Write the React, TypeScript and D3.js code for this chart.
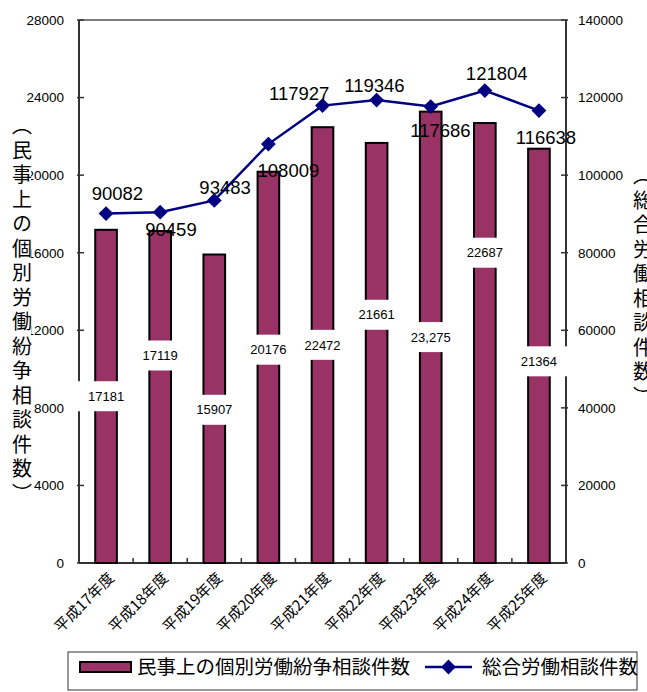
import React from "react";
import * as d3 from "d3";

const categories = ["平成17年度", "平成18年度", "平成19年度", "平成20年度", "平成21年度", "平成22年度", "平成23年度", "平成24年度", "平成25年度"];
const civilCases = [17181, 17119, 15907, 20176, 22472, 21661, 23275, 22687, 21364];
const civilLabels = ["17181", "17119", "15907", "20176", "22472", "21661", "23,275", "22687", "21364"];
const totalCases = [90082, 90459, 93483, 108009, 117927, 119346, 117686, 121804, 116638];
const leftTicks = [0, 4000, 8000, 12000, 16000, 20000, 24000, 28000];
const rightTicks = [0, 20000, 40000, 60000, 80000, 100000, 120000, 140000];
// label placement (axis units / band fractions)
const civilLabelAt = [8600, 10700, 7900, 11000, 11250, 12800, 11650, 16000, 10400];
const totalLabelAt = [95400, 85900, 96900, 101300, 121200, 123200, 111600, 126300, 109800];
const totalLabelShift = [0.21, 0.2, 0.2, 0.37, -0.43, -0.04, 0.18, 0.22, 0.13];
const leftTitle = "（民事上の個別労働紛争相談件数）";
const rightTitle = "（総合労働相談件数）";
const legendBarName = "民事上の個別労働紛争相談件数";
const legendLineName = "総合労働相談件数";

const W = 647, H = 692;
const L = 79, R = 566, T = 20, B = 563;
const BAR = "#993366";
const NAVY = "#000080";
const NUM = "'Liberation Sans', Arial, sans-serif";
const JP = "'Noto Sans CJK JP', sans-serif";

function VerticalTitle({ text, x, top }: { text: string; x: number; top: number }) {
  const n = Array.from(text).length;
  const pitch = 24.5;
  return (
    <g>
      <rect x={x - 9} y={top + 12} width={18} height={n * pitch - 24} fill="#fff" />
      <text
        x={x}
        y={top}
        fontFamily={JP}
        fontSize={20}
        letterSpacing={pitch - 20}
        style={{ writingMode: "vertical-rl" as any }}
      >
        {text}
      </text>
    </g>
  );
}

export default function App() {
  React.useEffect(() => {
    document.body.style.margin = "0";
  }, []);

  const x = d3.scaleBand<string>().domain(categories).range([L, R]).padding(0);
  const yL = d3.scaleLinear().domain([0, 28000]).range([B, T]);
  const yR = d3.scaleLinear().domain([0, 140000]).range([B, T]);
  const bw = x.bandwidth() * 0.4;
  const cx = (i: number) => (x(categories[i]) as number) + x.bandwidth() / 2;

  const line = d3
    .line<number>()
    .x((_, i) => cx(i))
    .y((d) => yR(d));
  const diamond = d3.symbol().type(d3.symbolSquare).size(110)();

  return (
    <svg width={W} height={H} style={{ position: "absolute", left: 0, top: 0, background: "#fff" }}>
      {/* plot frame */}
      <line x1={L} x2={R} y1={T} y2={T} stroke="#555" strokeWidth={1.5} />
      <line x1={L} x2={L} y1={T} y2={B} stroke="#333" strokeWidth={2} />
      <line x1={R} x2={R} y1={T} y2={B} stroke="#333" strokeWidth={2} />
      <line x1={L} x2={R} y1={B} y2={B} stroke="#333" strokeWidth={2} />
      {leftTicks.map((t) => (
        <line key={"lt" + t} x1={L - 2} x2={L + 5} y1={yL(t)} y2={yL(t)} stroke="#333" strokeWidth={1.5} />
      ))}
      {rightTicks.map((t) => (
        <line key={"rt" + t} x1={R - 5} x2={R + 2} y1={yR(t)} y2={yR(t)} stroke="#333" strokeWidth={1.5} />
      ))}
      {categories.slice(1).map((c) => (
        <line key={"bt" + c} x1={x(c)} x2={x(c)} y1={B} y2={B - 5} stroke="#333" strokeWidth={1.5} />
      ))}

      {/* bars */}
      {civilCases.map((v, i) => (
        <rect
          key={"bar" + i}
          x={cx(i) - bw / 2}
          y={yL(v)}
          width={bw}
          height={B - yL(v)}
          fill={BAR}
          stroke="#000"
          strokeWidth={2}
        />
      ))}
      {civilLabels.map((s, i) => (
        <g key={"bl" + i} transform={`translate(${cx(i)},${yL(civilLabelAt[i])})`}>
          <rect x={-29} y={-15} width={58} height={30} fill="#fff" />
          <text textAnchor="middle" dy="0.36em" fontFamily={NUM} fontSize={13} fill="#000">
            {s}
          </text>
        </g>
      ))}

      {/* line */}
      <path d={line(totalCases) || ""} fill="none" stroke={NAVY} strokeWidth={2.5} />
      {totalCases.map((v, i) => (
        <path key={"pt" + i} d={diamond || ""} transform={`translate(${cx(i)},${yR(v)}) rotate(45)`} fill={NAVY} />
      ))}
      {totalCases.map((v, i) => (
        <text
          key={"tl" + i}
          x={cx(i) + totalLabelShift[i] * x.bandwidth()}
          y={yR(totalLabelAt[i])}
          dy="0.36em"
          textAnchor="middle"
          fontFamily={NUM}
          fontSize={18.5}
          fill="#000"
        >
          {v}
        </text>
      ))}

      {/* tick labels */}
      {leftTicks.map((t) => (
        <text key={"ll" + t} x={64} y={yL(t)} dy="0.36em" textAnchor="end" fontFamily={NUM} fontSize={13.5}>
          {t}
        </text>
      ))}
      {rightTicks.map((t) => (
        <text key={"rl" + t} x={578} y={yR(t)} dy="0.36em" textAnchor="start" fontFamily={NUM} fontSize={13.5}>
          {t}
        </text>
      ))}

      {/* axis titles */}
      <VerticalTitle text={leftTitle} x={22} top={115.5} />
      <VerticalTitle text={rightTitle} x={643} top={165.5} />

      {/* category labels */}
      {categories.map((c, i) => (
        <text
          key={"cl" + i}
          transform={`translate(${cx(i) + 9},${579}) rotate(-45)`}
          textAnchor="end"
          fontFamily={JP}
          fontSize={15}
        >
          {c}
        </text>
      ))}

      {/* legend */}
      <rect x={68} y={652} width={569} height={38} fill="#fff" stroke="#333" strokeWidth={1} />
      <rect x={80} y={662} width={51} height={10} fill={BAR} stroke="#000" strokeWidth={2} />
      <text x={137} y={667} dy="0.36em" fontFamily={JP} fontSize={19.5}>
        {legendBarName}
      </text>
      <line x1={425} x2={472} y1={667} y2={667} stroke={NAVY} strokeWidth={2.5} />
      <path d={diamond || ""} transform="translate(448.5,667) rotate(45)" fill={NAVY} />
      <text x={482} y={667} dy="0.36em" fontFamily={JP} fontSize={19.5}>
        {legendLineName}
      </text>
    </svg>
  );
}
